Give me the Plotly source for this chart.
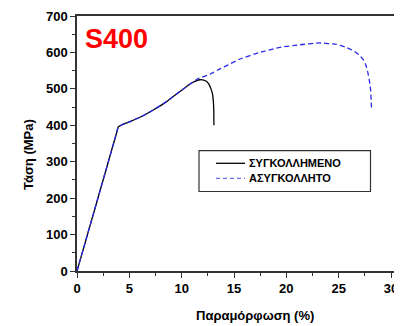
import plotly.graph_objects as go

# Welded specimen (ΣΥΓΚΟΛΛΗΜΕΝΟ)
welded_strain = [0, 1.9, 3.8, 3.95, 4.2, 4.6, 5.06, 6.02, 7.29, 8.56, 9.84, 10.95, 11.4, 11.75, 12.1, 12.39, 12.6, 12.8, 12.95, 13.03, 13.07, 13.08]
welded_stress = [0, 190, 381, 396, 400, 405, 410, 422, 442, 465, 493, 516, 522, 525, 524, 520, 513, 500, 485, 465, 440, 400]

# Unwelded specimen (ΑΣΥΓΚΟΛΛΗΤΟ)
unwelded_strain = [0, 1.9, 3.8, 3.95, 4.2, 4.6, 5.06, 6.02, 7.29, 8.56, 9.84, 10.95, 11.5, 12.7, 13.66, 14.45, 15.57, 17.48,
                   19.39, 21.3, 23.2, 24.8, 25.8, 26.4, 27.0, 27.35, 27.6, 27.8, 27.95, 28.05, 28.1, 28.14]
unwelded_stress = [0, 190, 381, 396, 400, 405, 410, 422, 442, 465, 493, 516, 527, 540, 555, 566, 582, 600,
                   614, 621, 626, 622, 613, 605, 592, 580, 565, 543, 520, 497, 470, 442]

x_ticks = [0, 5, 10, 15, 20, 25, 30]
y_ticks = [0, 100, 200, 300, 400, 500, 600, 700]
legend_names = ["ΣΥΓΚΟΛΛΗΜΕΝΟ", "ΑΣΥΓΚΟΛΛΗΤΟ"]

FONT = "Arial, Liberation Sans, sans-serif"
BLUE = "#2a2ae8"

fig = go.Figure()
fig.add_trace(go.Scatter(x=welded_strain, y=welded_stress, mode="lines", name=legend_names[0],
                         line=dict(color="black", width=1.3, shape="spline", smoothing=0.3)))
fig.add_trace(go.Scatter(x=unwelded_strain, y=unwelded_stress, mode="lines", name=legend_names[1],
                         line=dict(color=BLUE, width=1.3, dash="5px,3px", shape="spline", smoothing=0.3)))

# the page body adds an 8px offset; work in window pixels
OFF = 8
W, H = 402 - OFF, 326 - OFF
PL, PR, PT, PB = 77, 402, 16, 271   # plot area in window pixels
L, T = PL - OFF, PT - OFF
R = (402 - OFF) - (PR - OFF)
B = H - (PB - OFF)
pw, ph = W - L - R, H - T - B

def px_x(p):
    return (p - PL) / pw

def px_y(p):
    return 1 - (p - PT) / ph

axis_common = dict(showgrid=False, zeroline=False, showline=True, linecolor="#333333", linewidth=1.5,
                   mirror=True, ticks="outside", ticklen=5, tickwidth=1.3, tickcolor="#333333",
                   automargin=False,
                   tickfont=dict(family=FONT, size=13, color="black", weight="bold"))

shapes = [dict(type="rect", xref="paper", yref="paper",
               x0=px_x(199), x1=px_x(370.5), y0=px_y(191.5), y1=px_y(150.7),
               line=dict(color="#333333", width=1.2))]
annotations = [
    dict(text="<b>S400</b>", xref="paper", yref="paper", x=px_x(83), y=px_y(38.5),
         xanchor="left", yanchor="middle", showarrow=False,
         font=dict(family=FONT, size=27, color="#ff0000")),
    dict(text="<b>Παραμόρφωση (%)</b>", xref="paper", yref="paper", x=px_x(255), y=px_y(315),
         xanchor="center", yanchor="middle", showarrow=False,
         font=dict(family=FONT, size=13, color="black")),
    dict(text="<b>Τάση (MPa)</b>", xref="paper", yref="paper", x=px_x(28), y=px_y(155),
         xanchor="center", yanchor="middle", showarrow=False, textangle=-90,
         font=dict(family=FONT, size=13, color="black")),
]
# hand-drawn legend entries
leg_rows = [163.3, 178.3]
leg_styles = [dict(color="black", width=1.3), dict(color="#6f6ff0", width=1.3, dash="4px,3px")]
for name, yrow, st in zip(legend_names, leg_rows, leg_styles):
    shapes.append(dict(type="line", xref="paper", yref="paper",
                       x0=px_x(216), x1=px_x(245), y0=px_y(yrow), y1=px_y(yrow), line=st))
    annotations.append(dict(text="<b>" + name + "</b>", xref="paper", yref="paper",
                            x=px_x(247), y=px_y(yrow), xanchor="left", yanchor="middle",
                            showarrow=False, font=dict(family=FONT, size=11, color="black")))

fig.update_layout(
    width=W, height=H,
    margin=dict(l=L, r=R, t=T, b=B, pad=0),
    paper_bgcolor="white", plot_bgcolor="white",
    font=dict(family=FONT, color="black"),
    xaxis=dict(range=[0, 31.05], tickvals=x_ticks,
               minor=dict(dtick=2.5, ticks="outside", ticklen=3, tickcolor="#333333", tickwidth=1.2),
               **axis_common),
    yaxis=dict(range=[0, 700], tickvals=y_ticks,
               minor=dict(dtick=50, ticks="outside", ticklen=3, tickcolor="#333333", tickwidth=1.2),
               **axis_common),
    showlegend=False,
    shapes=shapes,
    annotations=annotations,
)

fig.write_html("out.html")
